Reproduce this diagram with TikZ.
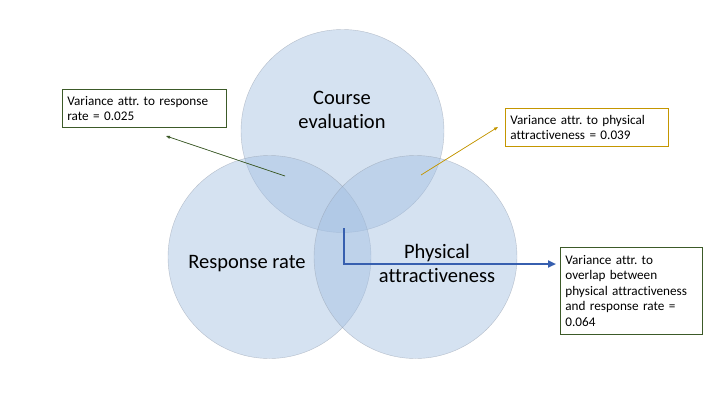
\documentclass[tikz,border=0pt]{standalone}
\usepackage{fontspec}
\setmainfont[Ligatures=NoCommon]{Carlito}
\usetikzlibrary{arrows.meta}
\frenchspacing
\definecolor{vennfill}{RGB}{162,191,226}
\definecolor{venndraw}{RGB}{150,160,175}
\definecolor{boxgreen}{RGB}{60,90,40}
\definecolor{boxgold}{RGB}{196,150,0}
\definecolor{arrowblue}{RGB}{55,95,175}
\tikzset{
  venn/.style={circle, fill=vennfill, fill opacity=0.45, draw=venndraw, draw opacity=0.6, line width=0.4pt, minimum size=203pt, inner sep=0pt},
  bigtext/.style={font=\fontsize{20.5}{24}\selectfont, align=center, text=black},
  infobox/.style={draw, line width=0.7pt, fill=white, anchor=north west, align=left, inner xsep=5pt, inner ysep=3pt, font=\fontsize{13.2}{15.6}\selectfont\frenchspacing, text=black},
  thinarrow/.style={line width=0.7pt, -{Triangle[length=4pt,width=3pt]}},
}
\begin{document}
\begin{tikzpicture}[x=1pt,y=-1pt]
\useasboundingbox (0,0) rectangle (720,405);
\fill[white] (0,0) rectangle (720,405);
% circles
\node[venn] (ce) at (342.5,131) {};
\node[venn] (rr) at (269.5,257) {};
\node[venn] (pa) at (415.5,257) {};
% labels
\node[bigtext] (celab) at (342,110) {Course\\evaluation};
\node[bigtext] (rrlab) at (247,264) {Response rate};
\node[bigtext] (palab) at (437,263.5) {Physical\\attractiveness};
% boxes
\node[infobox, draw=boxgreen, text width=154pt, minimum height=38pt] (b1) at (62,89) {Variance attr. to response\\rate = 0.025};
\node[infobox, draw=boxgold, text width=153pt, minimum height=38pt] (b2) at (505,108) {Variance attr. to physical\\attractiveness = 0.039};
\node[infobox, draw=boxgreen, text width=132pt, minimum height=87pt] (b3) at (560,247) {Variance attr. to\\overlap between\\physical attractiveness\\and response rate =\\0.064};
% arrow anchor points
\coordinate (s1) at (285,176);
\coordinate (e1) at (166,136);
\coordinate (s2) at (421,175);
\coordinate (e2) at (498,127);
\coordinate (s3) at (344,228);
\coordinate (m3) at (344,264);
\coordinate (e3) at (556,264);
% arrows
\draw[thinarrow, draw=boxgreen, fill=boxgreen] (s1) -- (e1);
\draw[thinarrow, draw=boxgold, fill=boxgold] (s2) -- (e2);
\draw[arrowblue, line width=2.5pt, -{Triangle[length=8pt,width=7pt]}] (s3) -- (m3) -- (e3);
\end{tikzpicture}
\end{document}
